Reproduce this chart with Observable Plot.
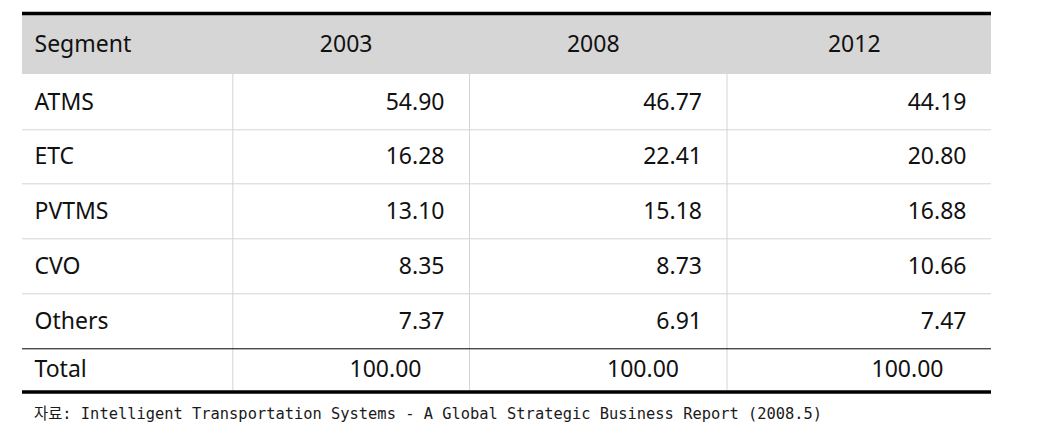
<!DOCTYPE html>
<html>
<head>
<meta charset="utf-8">
<script src="https://cdn.jsdelivr.net/npm/d3@7"></script>
<script src="https://cdn.jsdelivr.net/npm/@observablehq/plot@0.6"></script>
<style>
  html, body { margin: 0; padding: 0; background: #fff; }
  figure { margin: 0; }
  figcaption {
    font-family: "DejaVu Sans Mono", "Noto Sans CJK KR", monospace;
    font-size: 15.4px;
    color: #1a1a1a;
    padding: 6px 0 0 34px;
    line-height: 20px;
    white-space: pre;
  }
</style>
</head>
<body>
<div id="chart"></div>
<script>
// ---- data ----
const headers = ["Segment", "2003", "2008", "2012"];
const segments = ["ATMS", "ETC", "PVTMS", "CVO", "Others"];
const values2003 = [54.90, 16.28, 13.10, 8.35, 7.37];
const values2008 = [46.77, 22.41, 15.18, 8.73, 6.91];
const values2012 = [44.19, 20.80, 16.88, 10.66, 7.47];
const totalLabel = "Total";
const totals = [100.00, 100.00, 100.00];
const source = "자료: Intelligent Transportation Systems - A Global Strategic Business Report (2008.5)";

// ---- table build ----
const series = [values2003, values2008, values2012];
const nCols = headers.length;
const nRows = segments.length + 2; // header + data + total
const totalRow = nRows - 1;

const headerCells = headers.map((h, c) => ({row: 0, col: c, text: h}));
const labelCells = segments.map((s, i) => ({row: i + 1, col: 0, text: s}))
  .concat([{row: totalRow, col: 0, text: totalLabel}]);
const valueCells = [];
series.forEach((vals, j) => vals.forEach((v, i) =>
  valueCells.push({row: i + 1, col: j + 1, text: v.toFixed(2)})));
const totalCells = totals.map((v, j) => ({row: totalRow, col: j + 1, text: v.toFixed(2)}));

const rowIdx = d3.range(nRows + 1);
const colIdx = d3.range(nCols + 1);
const innerRowEdges = d3.range(2, totalRow);     // light separators between data rows
const innerColEdges = d3.range(1, nCols);        // light vertical dividers

const font = "'Noto Sans', 'Open Sans', sans-serif";
const fs = 23;

const plot = Plot.plot({
  width: 1041,
  height: 398,
  margin: 0,
  x: {type: "linear", domain: colIdx, range: [22, 232.3, 469, 726.5, 991], axis: null},
  y: {type: "linear", domain: rowIdx, range: [15, 74, 129.3, 183.3, 238.3, 293.3, 348.3, 390], axis: null},
  style: {fontFamily: font, background: "#fff"},
  caption: source,
  marks: [
    // header band
    Plot.rect([0], {x1: 0, x2: nCols, y1: 0, y2: 1, fill: "#d6d6d6"}),
    // vertical light dividers (below header)
    Plot.ruleX(innerColEdges, {x: d => d, y1: 1, y2: totalRow + 1, stroke: "#d4d4d4", strokeWidth: 1}),
    // horizontal light separators
    Plot.ruleY(innerRowEdges, {y: d => d, x1: 0, x2: nCols, stroke: "#d4d4d4", strokeWidth: 1}),
    // thin black line above total
    Plot.ruleY([totalRow], {y: d => d, x1: 0, x2: nCols, stroke: "#000", strokeWidth: 1}),
    // thick top and bottom lines
    Plot.ruleY([0], {y: d => d, x1: 0, x2: nCols, stroke: "#000", strokeWidth: 3.5, dy: -2}),
    Plot.ruleY([nRows], {y: d => d, x1: 0, x2: nCols, stroke: "#000", strokeWidth: 3.5, dy: 1.5}),
    // header text
    Plot.text(headerCells.filter(d => d.col === 0), {x: "col", y: d => d.row + 0.5, text: "text", textAnchor: "start", dx: 12, fontSize: fs, fill: "#111"}),
    Plot.text(headerCells.filter(d => d.col > 0), {x: d => d.col + 0.5, y: d => d.row + 0.5, text: "text", dx: -5, fontSize: fs, fill: "#111"}),
    // row labels
    Plot.text(labelCells, {x: "col", y: d => d.row + 0.5, text: "text", textAnchor: "start", dx: 12, fontSize: fs, fill: "#111"}),
    // values
    Plot.text(valueCells, {x: d => d.col + 1, y: d => d.row + 0.5, text: "text", textAnchor: "end", dx: -25, fontSize: fs, fill: "#111"}),
    // totals
    Plot.text(totalCells, {x: d => d.col + 1, y: d => d.row + 0.5, text: "text", textAnchor: "end", dx: -48, fontSize: fs, fill: "#111"})
  ]
});
document.getElementById("chart").appendChild(plot);
</script>
</body>
</html>
